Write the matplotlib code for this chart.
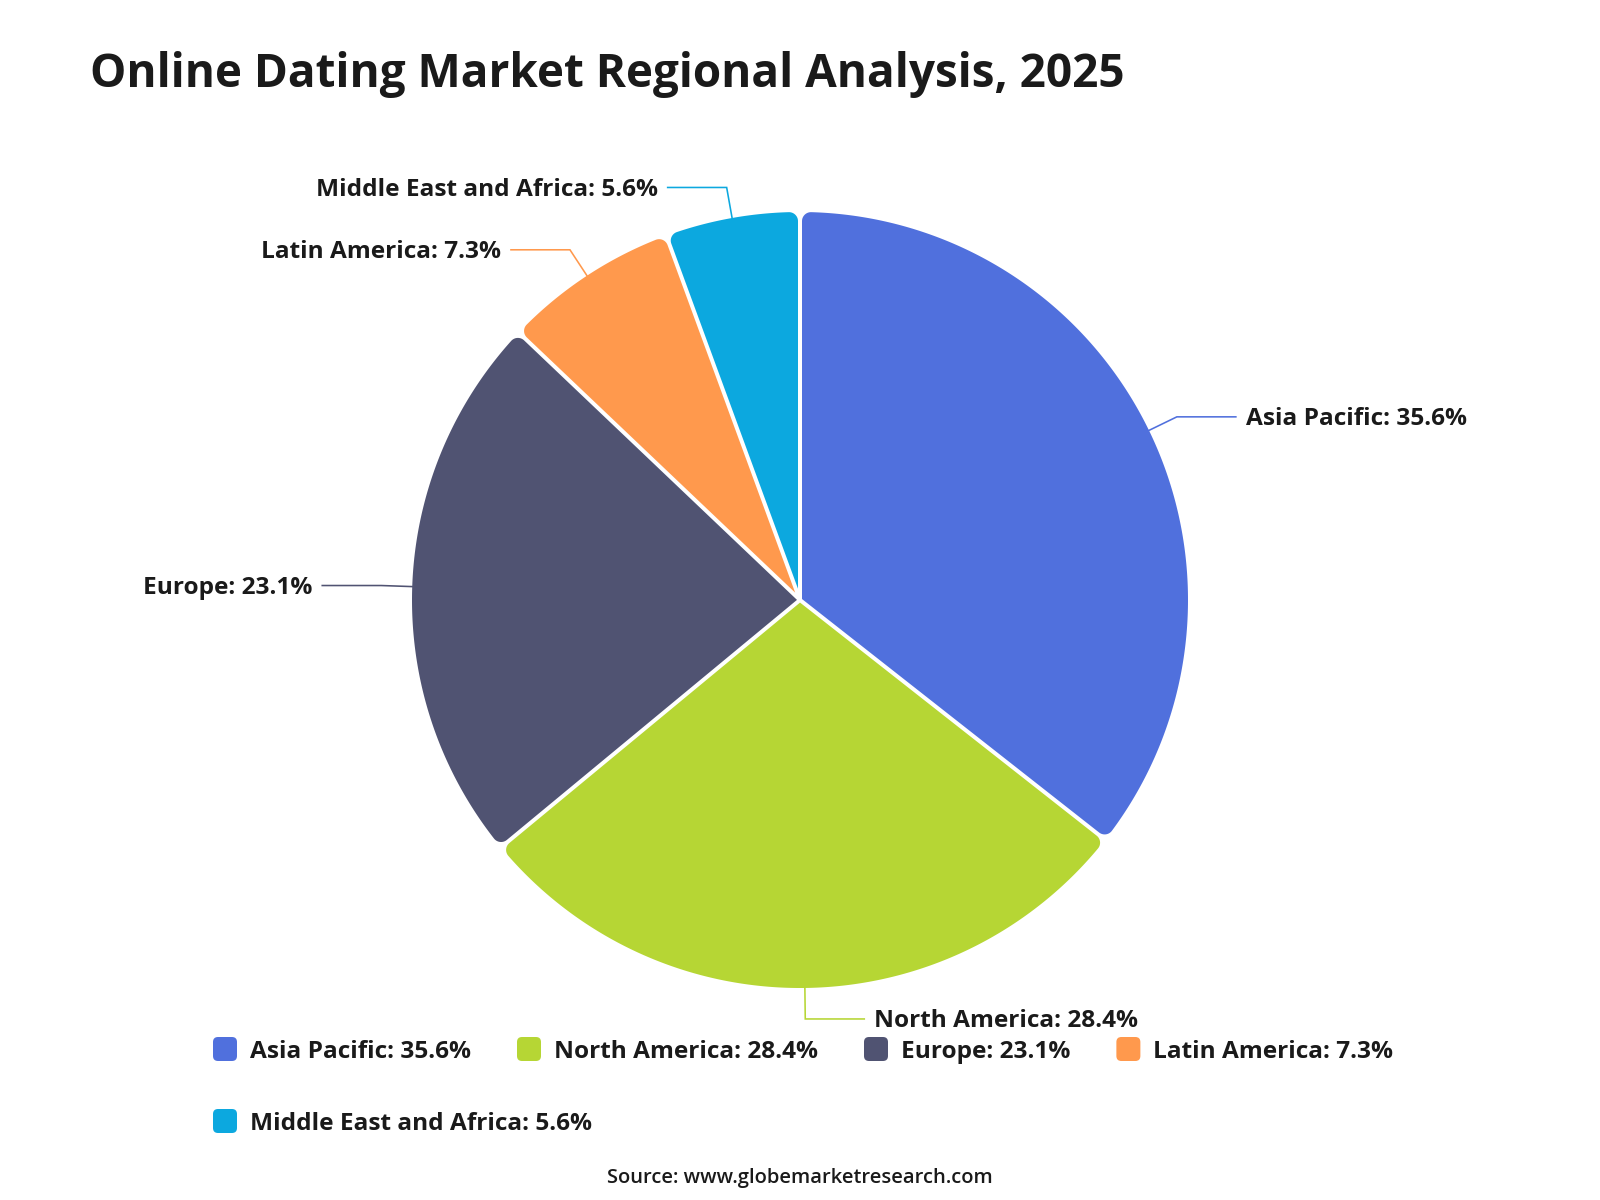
import matplotlib
matplotlib.use("Agg")
import matplotlib.pyplot as plt
import numpy as np
from matplotlib.patches import Polygon, FancyBboxPatch

# ---- data ----
regions = ["Asia Pacific", "North America", "Europe", "Latin America", "Middle East and Africa"]
shares = [35.6, 28.4, 23.1, 7.3, 5.6]
colors = ["#5070dd", "#b6d634", "#505372", "#ff994d", "#0ca8df"]
title = "Online Dating Market Regional Analysis, 2025"
source = "Source: www.globemarketresearch.com"

FONT = "Open Sans"
plt.rcParams["font.family"] = [FONT, "DejaVu Sans"]
TXT = "#1a1a1a"

W, H = 1600, 1200
fig = plt.figure(figsize=(16, 12), dpi=100)
ax = fig.add_axes([0, 0, 1, 1])
CX, CY, R = 800, 600, 388
wedges, _ = ax.pie(shares, colors=colors, startangle=90, counterclock=False,
                   center=(CX, CY), radius=R, frame=True)
ax.set_xlim(0, W)
ax.set_ylim(0, H)
ax.set_aspect("equal")
ax.axis("off")

PX = 72 / 100.0  # px -> pt


def pol(r, a, cx, cy):
    return np.array([cx + r * np.cos(a), cy + r * np.sin(a)])


def rounded_wedge(w, rr=9, gap=4):
    cx, cy = w.center
    Rw = w.r
    a1, a2 = np.radians(w.theta1), np.radians(w.theta2)
    half = (a2 - a1) / 2
    mid = (a1 + a2) / 2
    g = gap / 2
    apex = pol(g / np.sin(half), mid, cx, cy)
    da = np.arcsin((rr + g) / (Rw - rr))
    C1 = pol(Rw - rr, a1 + da, cx, cy)
    C2 = pol(Rw - rr, a2 - da, cx, cy)
    phi1, phi2 = a1 + da, a2 - da
    f1 = np.linspace(a1 - np.pi / 2, phi1, 30)
    fil1 = np.column_stack([C1[0] + rr * np.cos(f1), C1[1] + rr * np.sin(f1)])
    oa = np.linspace(phi1, phi2, 300)
    outer = np.column_stack([cx + Rw * np.cos(oa), cy + Rw * np.sin(oa)])
    f2 = np.linspace(phi2, a2 + np.pi / 2, 30)
    fil2 = np.column_stack([C2[0] + rr * np.cos(f2), C2[1] + rr * np.sin(f2)])
    return np.vstack([apex, fil1, outer, fil2])


for w, col in zip(wedges, colors):
    w.set_visible(False)
    pts = rounded_wedge(w)
    ax.add_patch(Polygon(pts, closed=True, facecolor=col, edgecolor="none",
                         antialiased=True, zorder=2))

# ---- leader lines and labels ----
FS = 17.6
L1, L2, TG = 31, 59, 10
for w, name, val, col in zip(wedges, regions, shares, colors):
    m = np.radians((w.theta1 + w.theta2) / 2)
    c, s = np.cos(m), np.sin(m)
    p0 = (CX + R * c, CY + R * s)
    p1 = (CX + (R + L1) * c, CY + (R + L1) * s)
    dr = 1 if c >= 0 else -1
    p2 = (p1[0] + dr * L2, p1[1])
    ax.plot([p0[0], p1[0], p2[0]], [p0[1], p1[1], p2[1]], color=col,
            lw=1.6 * PX, zorder=3, solid_joinstyle="miter")
    ax.text(p2[0] + dr * TG, p2[1] - 8.5, f"{name}: {val}%", ha="left" if dr > 0 else "right",
            va="baseline", fontsize=FS, fontweight="bold", color=TXT, zorder=4)

# ---- title & source ----
ax.text(90, H - 87, title, fontsize=33, fontweight="bold", color=TXT, va="baseline", ha="left")
ax.text(800, H - 1183, source, fontsize=14.5, fontweight="semibold", color=TXT,
        va="baseline", ha="center")

# ---- legend (flow layout) ----
fig.canvas.draw()
renderer = fig.canvas.get_renderer()
x0, y0 = 213, H - 1049
icon, igap, itemgap, rowstep, maxright = 24, 13, 46, 72, 1430
x, y = x0, y0
for name, val, col in zip(regions, shares, colors):
    t = ax.text(0, 0, f"{name}: {val}%", fontsize=FS, fontweight="bold", color=TXT,
                va="baseline", ha="left")
    tw = t.get_window_extent(renderer).width
    if x + icon + igap + tw > maxright and x > x0:
        x = x0
        y -= rowstep
    ax.add_patch(FancyBboxPatch((x, y - icon / 2), icon, icon,
                                boxstyle="round,pad=0,rounding_size=5",
                                facecolor=col, edgecolor="none"))
    t.set_position((x + icon + igap, y - 8.5))
    x = x + icon + igap + tw + itemgap

fig.savefig("out.png", dpi=100, facecolor="white")
